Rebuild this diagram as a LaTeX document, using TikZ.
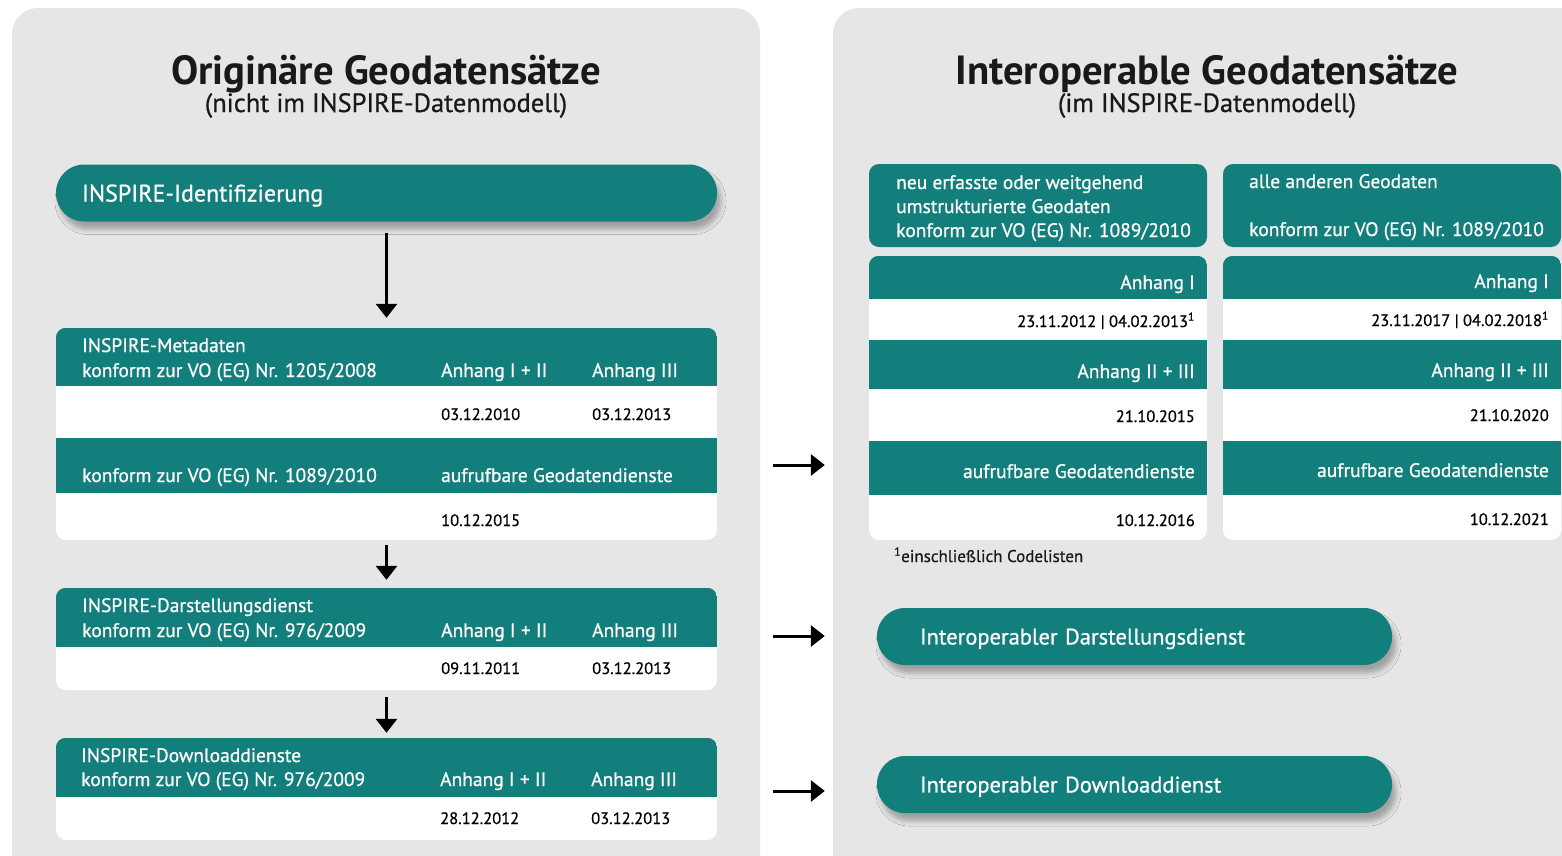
\documentclass[tikz,border=0pt]{standalone}
\usepackage{fontspec}
\setmainfont{PT Sans}
\newfontfamily\medfont[FakeBold=0.7]{PT Sans}
\usetikzlibrary{arrows.meta,positioning,shadows.blur,calc}

\definecolor{inspteal}{RGB}{19,127,124}
\definecolor{panelgray}{RGB}{230,230,230}
\definecolor{titlegray}{RGB}{25,25,25}

\tikzset{panel/.style={
			  fill            = panelgray,
			  rounded corners = 26pt
			}}
\tikzset{pillbox/.style={
			  rectangle,
			  rounded corners = 28pt,
			  fill            = inspteal,
			  text            = white,
			  minimum height  = 57pt,
			  text depth      = 0pt,
			  align           = left,
			  font            = \medfont\fontsize{22.5}{24}\selectfont,
			  blur shadow     = {shadow xshift=4pt, shadow yshift=-8pt,
			                     shadow blur radius=5pt, shadow opacity=30}
			}}
\tikzset{card/.style={
			  rectangle,
			  rounded corners = 10pt,
			  fill            = white,
			  inner sep       = 0pt
			}}
\tikzset{headcard/.style={
			  rectangle,
			  rounded corners = 10pt,
			  fill            = inspteal,
			  inner sep       = 0pt
			}}
\tikzset{band/.style={fill = inspteal}}
\tikzset{headtext/.style={
			  text            = white,
			  inner sep       = 0pt,
			  font            = \medfont\fontsize{19.5}{20}\selectfont
			}}
\tikzset{datetext/.style={
			  text            = black,
			  inner sep       = 0pt,
			  font            = \medfont\fontsize{16.5}{18}\selectfont
			}}
\tikzset{flow/.style={
			  -{Triangle[length=14pt,width=21pt]},
			  line width      = 3pt
			}}

\begin{document}
\begin{tikzpicture}[x=1pt, y=-1pt]

    \useasboundingbox[fill=white] (0,0) rectangle (1562,855);
    \fill[panel] (12,8) rectangle (760,900);
    \fill[panel] (833,8) rectangle (1600,900);

    % titles
    \node (ltitle) [anchor=base, text=titlegray, font=\fontsize{40.7}{42}\selectfont\bfseries] at (386,84) {Originäre Geodatensätze};
    \node (lsub)   [anchor=base, text=titlegray, font=\medfont\fontsize{26.5}{28}\selectfont] at (386,112) {(nicht im INSPIRE-Datenmodell)};
    \node (rtitle) [anchor=base, text=titlegray, font=\fontsize{40.7}{42}\selectfont\bfseries] at (1207,84) {Interoperable Geodatensätze};
    \node (rsub)   [anchor=base, text=titlegray, font=\medfont\fontsize{26.5}{28}\selectfont] at (1207,112) {(im INSPIRE-Datenmodell)};

    % left column
    \node (ident) [pillbox, text width=609pt, inner xsep=26pt, font=\medfont\fontsize{24}{26}\selectfont] at (386.5,193) {INSPIRE-Identifizierung};
    \node (meta)  [card, minimum width=661pt, minimum height=212pt] at (386.5,434) {};
    \node (dar)   [card, minimum width=661pt, minimum height=102pt] at (386.5,639) {};
    \node (dl)    [card, minimum width=661pt, minimum height=102pt] at (386.5,789) {};

    \begin{scope}
      \clip[rounded corners=10pt] (meta.north west) rectangle (meta.south east);
      \fill[band] (56,328) rectangle (717,386);
      \fill[band] (56,438) rectangle (717,493);
    \end{scope}
    \begin{scope}
      \clip[rounded corners=10pt] (dar.north west) rectangle (dar.south east);
      \fill[band] (56,588) rectangle (717,647);
    \end{scope}
    \begin{scope}
      \clip[rounded corners=10pt] (dl.north west) rectangle (dl.south east);
      \fill[band] (56,738) rectangle (717,797);
    \end{scope}

    \node (mname)  [headtext, anchor=base west] at (82,352)  {INSPIRE-Metadaten};
    \node (mvo)    [headtext, anchor=base west] at (82,377)  {konform zur VO (EG) Nr. 1205/2008};
    \node (manh1)  [headtext, anchor=base west] at (441,377) {Anhang I + II};
    \node (manh3)  [headtext, anchor=base west] at (592,377) {Anhang III};
    \node (mdate1) [datetext, anchor=base west] at (441,420) {03.12.2010};
    \node (mdate3) [datetext, anchor=base west] at (592,420) {03.12.2013};
    \node (mvo2)   [headtext, anchor=base west] at (82,482)  {konform zur VO (EG) Nr. 1089/2010};
    \node (mserv)  [headtext, anchor=base west] at (441,482) {aufrufbare Geodatendienste};
    \node (mdate4) [datetext, anchor=base west] at (441,526) {10.12.2015};

    \node (dname)  [headtext, anchor=base west] at (82,612)  {INSPIRE-Darstellungsdienst};
    \node (dvo)    [headtext, anchor=base west] at (82,637)  {konform zur VO (EG) Nr. 976/2009};
    \node (danh1)  [headtext, anchor=base west] at (441,637) {Anhang I + II};
    \node (danh3)  [headtext, anchor=base west] at (592,637) {Anhang III};
    \node (ddate1) [datetext, anchor=base west] at (441,674) {09.11.2011};
    \node (ddate3) [datetext, anchor=base west] at (592,674) {03.12.2013};

    \node (lname)  [headtext, anchor=base west] at (81,762)  {INSPIRE-Downloaddienste};
    \node (lvo)    [headtext, anchor=base west] at (81,786)  {konform zur VO (EG) Nr. 976/2009};
    \node (lanh1)  [headtext, anchor=base west] at (440,786) {Anhang I + II};
    \node (lanh3)  [headtext, anchor=base west] at (591,786) {Anhang III};
    \node (ldate1) [datetext, anchor=base west] at (440,824) {28.12.2012};
    \node (ldate3) [datetext, anchor=base west] at (591,824) {03.12.2013};

    % right column
    \node (headA) [headcard, minimum width=338pt, minimum height=83pt] at (1038,205.5) {};
    \node (headB) [headcard, minimum width=338pt, minimum height=83pt] at (1392,205.5) {};
    \node (cardA) [card, minimum width=338pt, minimum height=284pt] at (1038,398) {};
    \node (cardB) [card, minimum width=338pt, minimum height=284pt] at (1392,398) {};

    \foreach \c/\xl/\xr in {cardA/869/1207, cardB/1223/1561}{
      \begin{scope}
        \clip[rounded corners=10pt] (\c.north west) rectangle (\c.south east);
        \fill[band] (\xl,256) rectangle (\xr,299);
        \fill[band] (\xl,340) rectangle (\xr,389);
        \fill[band] (\xl,441) rectangle (\xr,495);
      \end{scope}
    }

    \node (aline1) [headtext, anchor=base west] at (896,189) {neu erfasste oder weitgehend};
    \node (aline2) [headtext, anchor=base west] at (896,213) {umstrukturierte Geodaten};
    \node (aline3) [headtext, anchor=base west] at (896,237) {konform zur VO (EG) Nr. 1089/2010};
    \node (bline1) [headtext, anchor=base west] at (1249,188) {alle anderen Geodaten};
    \node (bline3) [headtext, anchor=base west] at (1249,236) {konform zur VO (EG) Nr. 1089/2010};

    \node (aanh1)  [headtext, anchor=base east] at (1195,289) {Anhang I};
    \node (adate1) [datetext, anchor=base east] at (1195,327) {23.11.2012 | 04.02.2013\textsuperscript{1}};
    \node (aanh2)  [headtext, anchor=base east] at (1195,378) {Anhang II + III};
    \node (adate2) [datetext, anchor=base east] at (1195,422) {21.10.2015};
    \node (aserv)  [headtext, anchor=base east] at (1195,478) {aufrufbare Geodatendienste};
    \node (adate3) [datetext, anchor=base east] at (1195,526) {10.12.2016};

    \node (banh1)  [headtext, anchor=base east] at (1549,288) {Anhang I};
    \node (bdate1) [datetext, anchor=base east] at (1549,326) {23.11.2017 | 04.02.2018\textsuperscript{1}};
    \node (banh2)  [headtext, anchor=base east] at (1549,377) {Anhang II + III};
    \node (bdate2) [datetext, anchor=base east] at (1549,421) {21.10.2020};
    \node (bserv)  [headtext, anchor=base east] at (1549,477) {aufrufbare Geodatendienste};
    \node (bdate3) [datetext, anchor=base east] at (1549,525) {10.12.2021};

    \node (fnote)  [anchor=base west, inner sep=0pt, text=titlegray, font=\medfont\fontsize{17}{18}\selectfont] at (894,562) {\textsuperscript{1}einschließlich Codelisten};

    \node (interD) [pillbox, text width=429pt, inner xsep=43pt] at (1134.5,636.5) {Interoperabler Darstellungsdienst};
    \node (interL) [pillbox, text width=429pt, inner xsep=43pt] at (1134.5,784.5) {Interoperabler Downloaddienst};

    % arrows
    \draw [flow, shorten <=11pt, shorten >=10pt] (ident) -- (meta);
    \draw [flow, shorten <=5pt,  shorten >=8pt]  (meta)  -- (dar);
    \draw [flow, shorten <=7pt,  shorten >=5pt]  (dar)   -- (dl);
    \draw [flow, shorten <=56pt, shorten >=44pt] ([yshift=-31pt]meta.east) -- ([yshift=-31pt]meta.east -| cardA.west);
    \draw [flow, shorten <=56pt, shorten >=52pt] ([yshift=3pt]dar.east) -- ([yshift=3pt]dar.east -| interD.west);
    \draw [flow, shorten <=56pt, shorten >=52pt] ([yshift=-2pt]dl.east) -- ([yshift=-2pt]dl.east -| interL.west);

\end{tikzpicture}
\end{document}
